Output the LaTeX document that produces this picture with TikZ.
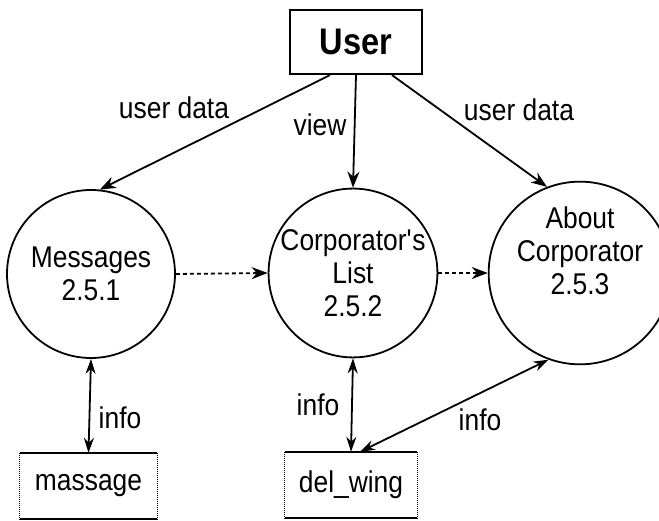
\documentclass[tikz,border=0pt]{standalone}
\usepackage{fontspec}
\setmainfont{Liberation Sans}[FakeStretch=0.88]
\usetikzlibrary{arrows.meta}
\tikzset{
  txt/.style={font=\fontsize{30}{33}\selectfont},
  proc/.style={circle, draw, line width=1.8pt, minimum size=164pt, inner sep=0pt, align=center, txt},
  store/.style={minimum width=134pt, minimum height=66pt, inner sep=0pt, txt},
  flow/.style={line width=1.8pt, -{Stealth[length=16pt,width=12pt]}},
  dflow/.style={flow, dash pattern=on 4pt off 3pt},
  bflow/.style={line width=1.8pt, {Stealth[length=15pt,width=10pt]}-{Stealth[length=15pt,width=10pt]}}
}
\begin{document}
\begin{tikzpicture}[x=1pt,y=-1pt]
  \useasboundingbox (0,0) rectangle (659,521);

  \node[draw, line width=2.2pt, minimum width=132pt, minimum height=64pt, font=\bfseries\fontsize{37}{40}\selectfont] (user) at (356,42) {User};

  \node[proc, minimum size=168pt] (msg) at (91,274) {Messages\\2.5.1};
  \node[proc] (corp) at (353,273) {Corporator\textquotesingle s\\List\\2.5.2};
  \node[proc, minimum size=162pt] (about) at (580,273) {About\\Corporator\\2.5.3\\[12pt]};

  \node[store, minimum width=137pt] (massage) at (88.5,486) {massage};
  \node[store, minimum width=132pt] (delwing) at (351,485) {del\_wing};
  \foreach \s in {massage,delwing}{
    \draw[line width=2pt] (\s.north west) -- (\s.north east) (\s.south west) -- (\s.south east);
    \draw[densely dotted, line width=1pt] (\s.north west) -- (\s.south west) (\s.north east) -- (\s.south east);
  }

  \draw[flow] ([xshift=-26pt]user.south) -- (msg.84);
  \draw[flow] (user.south) -- (corp.north);
  \draw[flow] ([xshift=36pt]user.south) -- (about.111);
  \draw[dflow] (msg.east) -- (corp.west);
  \draw[dflow] (corp.east) -- (about.west);
  \draw[bflow] (msg.south) -- (massage.north);
  \draw[bflow] (corp.south) -- (delwing.north);
  \draw[bflow] (about.250) -- ([xshift=9pt]delwing.north);

  \node[txt] (ud1) at (174,108) {user data};
  \node[txt] (vw) at (320,125) {view};
  \node[txt] (ud2) at (519,110) {user data};
  \node[txt] (in1) at (120,418) {info};
  \node[txt] (in2) at (318,405) {info};
  \node[txt] (in3) at (480,420) {info};
\end{tikzpicture}
\end{document}
